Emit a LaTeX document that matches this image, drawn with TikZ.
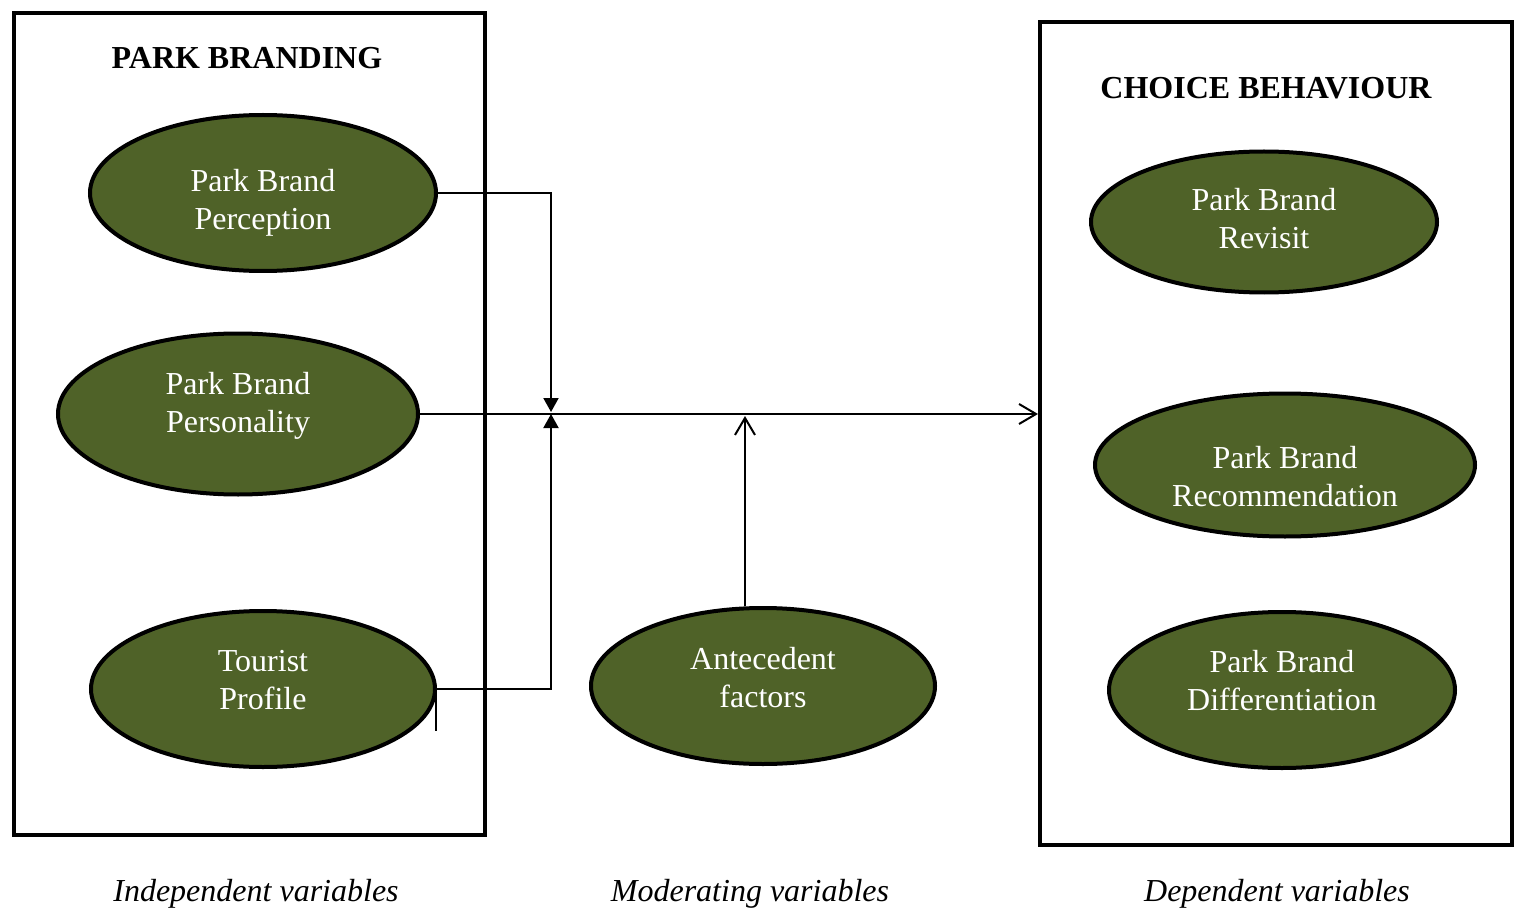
\documentclass[tikz,border=0pt]{standalone}
\usepackage{fontspec}
\setmainfont{Liberation Serif}
\usetikzlibrary{shapes.geometric,arrows.meta}
\definecolor{olive}{HTML}{4F6228}
% two centred lines; the first baseline sits #1 above the node centre
\newcommand\vtext[3]{\raisebox{#1}[0pt][0pt]{\begin{tabular}[t]{@{}c@{}}#2\\#3\end{tabular}}}
\begin{document}
\begin{tikzpicture}[x=1pt,y=-1pt,
  frame/.style={draw,line width=4pt,rectangle,inner sep=0pt},
  var/.style={ellipse,draw,line width=4pt,fill=olive,text=white,inner sep=0pt,
    font=\fontsize{32}{38}\selectfont},
  title/.style={font=\fontsize{32}{38}\selectfont\bfseries},
  caption/.style={font=\fontsize{32}{38}\selectfont\itshape},
  link/.style={line width=2pt},
  solidtip/.style={-{Triangle[length=14pt,width=15pt]}},
  opentip/.style={-{Straight Barb[length=17pt,width=20pt,line width=2pt]}}]
\useasboundingbox (0,0) rectangle (1520,909);

% outer frames
\node[frame,minimum width=471pt,minimum height=822pt] (pb) at (249.5,424) {};
\node[frame,minimum width=472pt,minimum height=823pt] (cb) at (1276,433.5) {};

% titles
\node[title] (tpb) at (247,58) {PARK BRANDING};
\node[title] (tcb) at (1266,88) {CHOICE BEHAVIOUR};

% independent variables
\node[var,minimum width=346pt,minimum height=156pt] (perc) at (263,193) {\vtext{1pt}{Park Brand}{Perception}};
\node[var,minimum width=360pt,minimum height=161pt] (pers) at (238,414) {\vtext{20pt}{Park Brand}{Personality}};
\node[var,minimum width=344pt,minimum height=156pt] (tour) at (263,689) {\vtext{18pt}{Tourist}{Profile}};

% moderating variable
\node[var,minimum width=344pt,minimum height=156pt] (ante) at (763,686) {\vtext{17pt}{Antecedent}{factors}};

% dependent variables
\node[var,minimum width=346pt,minimum height=141pt] (rev) at (1264,222) {\vtext{11pt}{Park Brand}{Revisit}};
\node[var,minimum width=380pt,minimum height=143pt] (rec) at (1285,465) {\vtext{-3pt}{Park Brand}{Recommendation}};
\node[var,minimum width=346pt,minimum height=156pt] (dif) at (1282,690) {\vtext{18pt}{Park Brand}{Differentiation}};

% captions
\node[caption] (c1) at (256,894) {Independent variables};
\node[caption] (c2) at (750,894) {Moderating variables};
\node[caption] (c3) at (1277,894) {Dependent variables};

% junction points
\coordinate (jt) at (551,412);
\coordinate (jb) at (551,414);
\coordinate (mt) at (745,416);
\coordinate (tk1) at (436,688);
\coordinate (tk2) at (436,731);

% connectors
\draw[link,solidtip] (perc.east) -| (jt);
\draw[link,solidtip] (tour.east) -| (jb);
\draw[link,opentip] (pers.east) -- (pers.east -| cb.west);
\draw[link,opentip] (ante.north -| mt) -- (mt);
\draw[line width=1.5pt] (tk1) -- (tk2);
\end{tikzpicture}
\end{document}
